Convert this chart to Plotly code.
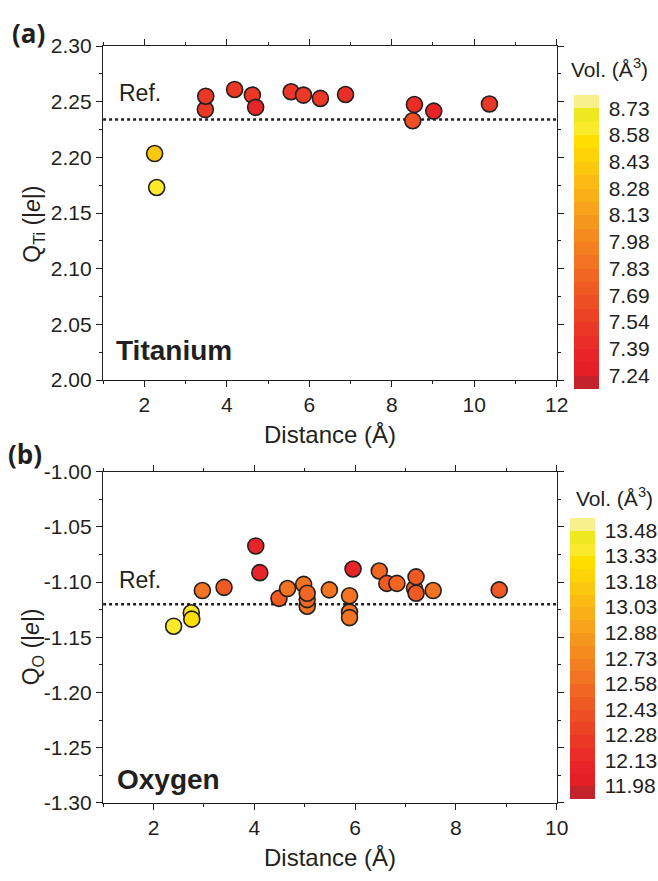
import plotly.graph_objects as go

# ---------------- data ----------------
# Panel (a) Titanium
ti_dist = [3.48, 3.49, 4.19, 4.62, 4.70, 5.56, 5.86, 6.27, 6.88, 2.25, 2.30, 8.51, 8.55, 9.02, 10.37]
ti_q    = [2.243, 2.255, 2.261, 2.256, 2.245, 2.259, 2.256, 2.253, 2.2565, 2.2035, 2.173, 2.233, 2.2475, 2.2416, 2.248]
ti_vol  = [7.52, 7.50, 7.50, 7.50, 7.35, 7.48, 7.50, 7.48, 7.43, 8.39, 8.65, 7.65, 7.43, 7.35, 7.50]
ti_ref = 2.234
ti_yticks = [2.00, 2.05, 2.10, 2.15, 2.20, 2.25, 2.30]
ti_ytick_text = ["2.00", "2.05", "2.10", "2.15", "2.20", "2.25", "2.30"]
ti_cbar_ticks = ["7.24", "7.39", "7.54", "7.69", "7.83", "7.98", "8.13", "8.28", "8.43", "8.58", "8.73"]

# Panel (b) Oxygen
o_dist = [2.40, 2.75, 2.76, 2.97, 3.40, 4.03, 4.11, 4.49, 4.66,
          5.05, 5.05, 4.98, 5.05, 5.49, 5.96, 5.89, 5.89, 5.89,
          6.48, 6.63, 6.83, 7.18, 7.21, 7.21, 7.55, 8.86]
o_q    = [-1.140, -1.1278, -1.1336, -1.1077, -1.1048, -1.0673, -1.0915, -1.1148, -1.1059,
          -1.1219, -1.1159, -1.1021, -1.1101, -1.1071, -1.0882, -1.1272, -1.1322, -1.1124,
          -1.0900, -1.1012, -1.1012, -1.1057, -1.1101, -1.0953, -1.1077, -1.1071]
o_vol  = [13.40, 13.36, 13.28, 12.63, 12.50, 12.08, 12.10, 12.47, 12.58,
          12.58, 12.55, 12.62, 12.52, 12.63, 12.12, 12.60, 12.62, 12.62,
          12.55, 12.47, 12.55, 12.45, 12.50, 12.47, 12.60, 12.48]
o_ref = -1.12
o_yticks = [-1.30, -1.25, -1.20, -1.15, -1.10, -1.05, -1.00]
o_ytick_text = ["-1.30", "-1.25", "-1.20", "-1.15", "-1.10", "-1.05", "-1.00"]
o_cbar_ticks = ["11.98", "12.13", "12.28", "12.43", "12.58", "12.73", "12.88", "13.03", "13.18", "13.33", "13.48"]

# ---------------- style ----------------
band_colors = ["#c4232b", "#e51f26", "#e82428", "#ea2e27", "#eb3826", "#ec4325",
               "#ee4e24", "#ef5a23", "#f16622", "#f27321", "#f47f20", "#f58b1f",
               "#f6971d", "#f8a31b", "#f9af18", "#fbbb14", "#fcc80f", "#fed408",
               "#ffdf00", "#fbe92c", "#efe71f", "#f8f08c"]
nb = len(band_colors)
cscale = []
for i, c in enumerate(band_colors):
    cscale.append([i / nb, c])
    cscale.append([(i + 1) / nb, c])

W, H = 658, 881
def px_x(p): return p / W
def px_y(p): return 1 - p / H

FONT = "Liberation Sans, Arial, sans-serif"
AX = "#231f20"
TICKSZ = 21

fig = go.Figure()

def add_panel(xs, ys, vs, ref, xref_ax, yref_ax, cax, xr):
    fig.add_trace(go.Scatter(
        x=[xr[0], xr[1]], y=[ref, ref], mode="lines",
        line=dict(color="#231f20", width=2.5, dash="3px,3px"),
        xaxis=xref_ax, yaxis=yref_ax, showlegend=False, hoverinfo="skip"))
    fig.add_trace(go.Scatter(
        x=xs, y=ys, mode="markers",
        marker=dict(size=16, color=vs, coloraxis=cax,
                    line=dict(color="#231f20", width=1.6)),
        xaxis=xref_ax, yaxis=yref_ax, showlegend=False))

add_panel(ti_dist, ti_q, ti_vol, ti_ref, "x", "y", "coloraxis", [1, 12])
add_panel(o_dist, o_q, o_vol, o_ref, "x2", "y2", "coloraxis2", [1, 10])

def xaxis_style(rng, dom):
    return dict(range=rng, domain=dom, dtick=2, tick0=0, ticks="outside", ticklen=6,
                tickwidth=1.3, tickcolor=AX, showline=True, linecolor=AX, linewidth=1.3,
                mirror="ticks", showgrid=False, zeroline=False,
                tickfont=dict(family=FONT, size=TICKSZ, color="#231f20"),
                minor=dict(dtick=1, tick0=0, ticks="outside", ticklen=3, tickcolor=AX, tickwidth=1.3))

def yaxis_style(rng, dom, anchor, tv, tt):
    return dict(range=rng, domain=dom, anchor=anchor, tickmode="array", tickvals=tv, ticktext=tt,
                ticks="outside", ticklen=6,
                tickwidth=1.3, tickcolor=AX, showline=True, linecolor=AX, linewidth=1.3,
                mirror="ticks", showgrid=False, zeroline=False,
                tickfont=dict(family=FONT, size=TICKSZ, color="#231f20"),
                minor=dict(dtick=0.025, tick0=0, ticks="outside", ticklen=3, tickcolor=AX, tickwidth=1.3))

xdom = [px_x(105), px_x(567)]

def cbar(cmin_lbl, step, labels, top, bottom, left):
    vals = [cmin_lbl + step * i for i in range(len(labels))]
    return dict(
        x=px_x(left), xanchor="left", xpad=0, ypad=0,
        y=px_y((top + bottom) / 2), yanchor="middle",
        lenmode="pixels", len=bottom - top, thickness=25,
        outlinewidth=0, ticks="outside", ticklen=6, tickcolor="rgba(0,0,0,0)",
        tickvals=vals, ticktext=labels,
        tickfont=dict(family=FONT, size=TICKSZ, color="#231f20"))

a_step = 0.149
b_step = 0.15

fig.update_layout(
    width=W, height=H, margin=dict(l=0, r=0, t=0, b=0),
    paper_bgcolor="white", plot_bgcolor="white",
    xaxis=xaxis_style([1, 12], xdom) | dict(anchor="y"),
    yaxis=yaxis_style([2.00, 2.30], [px_y(378), px_y(35)], "x", ti_yticks, ti_ytick_text),
    xaxis2=xaxis_style([1, 10], xdom) | dict(anchor="y2"),
    yaxis2=yaxis_style([-1.30, -1.00], [px_y(812), px_y(472)], "x2", o_yticks, o_ytick_text),
    coloraxis=dict(colorscale=cscale, cmin=7.24 - a_step / 2, cmax=8.73 + a_step / 2,
                   colorbar=cbar(7.24, a_step, ti_cbar_ticks, 89, 383, 585)),
    coloraxis2=dict(colorscale=cscale, cmin=11.98 - b_step / 2, cmax=13.48 + b_step / 2,
                    colorbar=cbar(11.98, b_step, o_cbar_ticks, 523, 804, 581)),
)

def ann(text, x, y, size, bold=False, angle=0, xanchor="center", family=FONT):
    fig.add_annotation(text=("<b>%s</b>" % text) if bold else text,
                       x=px_x(x), y=px_y(y), xref="paper", yref="paper",
                       xanchor=xanchor, yanchor="middle", showarrow=False,
                       textangle=angle, font=dict(family=family, size=size, color="#231f20"))

# panel labels
ann("(a)", 29, 22, 26, bold=True, family="Open Sans, sans-serif")
ann("(b)", 25, 454, 26, bold=True, family="Open Sans, sans-serif")
# element names
ann("Titanium", 116, 348, 28, bold=True, xanchor="left")
ann("Oxygen", 117, 788, 28, bold=True, xanchor="left")
# reference labels
ann("Ref.", 119, 83, 23, xanchor="left")
ann("Ref.", 119, 583, 23, xanchor="left")
# axis titles
ann("Distance (Å)", 336, 434, 24)
ann("Distance (Å)", 336, 868, 24)
ann("Q<sub>Ti</sub> (|<i>e</i>|)", 34, 218, 23, angle=-90)
ann("Q<sub>O</sub> (|<i>e</i>|)", 34, 652, 23, angle=-90)
# colorbar titles
ann("Vol. (Å<sup>3</sup>)", 580, 58, 21, xanchor="left")
ann("Vol. (Å<sup>3</sup>)", 585, 498, 21, xanchor="left")

fig.write_html("out.html")
